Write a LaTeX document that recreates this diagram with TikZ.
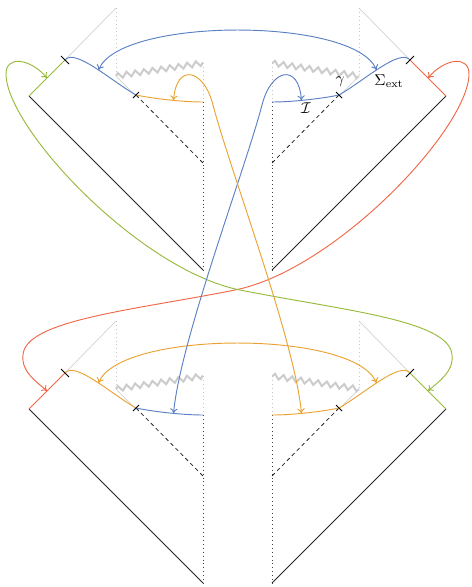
\documentclass[tikz,border=0pt]{standalone}
\usetikzlibrary{arrows.meta,decorations.pathmorphing}
\definecolor{cblue}{RGB}{92,128,196}
\definecolor{corange}{RGB}{234,163,50}
\definecolor{cgreen}{RGB}{152,186,60}
\definecolor{cred}{RGB}{240,104,72}
\tikzset{
  lightln/.style={gray!35, line width=0.45pt},
  lightdot/.style={gray!45, line width=0.5pt, dotted},
  zig/.style={gray!40, line width=1.3pt, decorate, decoration={zigzag, segment length=5.6pt, amplitude=1.7pt}},
  darkdot/.style={black!75, line width=0.5pt, dotted},
  dashln/.style={black!85, line width=0.5pt, dash pattern=on 2.5pt off 2pt},
  edgeln/.style={black!85, line width=0.55pt},
  cline/.style={line width=0.6pt},
  tickln/.style={black, line width=0.6pt},
  link/.style={line width=0.6pt, {To[length=3.2pt,width=4.8pt]}-{To[length=3.2pt,width=4.8pt]}},
  lbl/.style={inner sep=0pt},
}
\newcommand\Pdiag[4]{%
  \draw[lightln] (65,60) -- (116,8);
  \draw[lightdot] (116,8) -- (116,76);
  \draw[zig] (116,76) -- (203,63);
  \draw[lightln] (116,76) -- (136,96);
  \draw[lightdot] (203,63) -- (203,102);
  \draw[darkdot] (203,102) -- (203,270);
  \draw[dashln] (136,95) -- (203,163);
  \draw[edgeln] (29,96) -- (203,270);
  \draw[#2,cline] (29,96) -- (65,60) coordinate[pos=0.5] (#1e);
  \draw[#3,cline] (65,60) .. controls (75,48) and (110,80) .. (136,95) coordinate[pos=0.55] (#1s);
  \draw[#4,cline] (136,95) .. controls (150,98) and (180,102) .. (203,102) coordinate[pos=0.6] (#1i);
  \draw[tickln] (61,56) -- (69,64);
  \draw[tickln] (139,92) -- (133,98);
}
\begin{document}
\begin{tikzpicture}[x=0.64pt,y=-0.64pt]
\useasboundingbox (0,0) rectangle (472,587);
\begin{scope} \Pdiag{tl}{cgreen}{cblue}{corange} \end{scope}
\begin{scope}[shift={(475,0)},xscale=-1] \Pdiag{tr}{cred}{cblue}{cblue} \end{scope}
\begin{scope}[shift={(0,313)}] \Pdiag{bl}{cred}{corange}{cblue} \end{scope}
\begin{scope}[shift={(475,313)},xscale=-1] \Pdiag{br}{cgreen}{corange}{corange} \end{scope}

\draw[link,cred] (tre) .. controls +(17,-20) and +(1,-20) .. (469,75)
  .. controls +(-2,55) and +(100,-20) .. (235,290)
  .. controls +(-100,20) and +(2,-35) .. (23,355)
  .. controls +(-2,17) and +(-10,-9) .. (ble);
\draw[link,cgreen] (tle) .. controls +(-17,-20) and +(-1,-20) .. (6,75)
  .. controls +(2,55) and +(-100,-20) .. (240,290)
  .. controls +(100,20) and +(-2,-35) .. (452,355)
  .. controls +(2,17) and +(10,-9) .. (bre);
\draw[link,cblue] (tls) .. controls +(22,-53) and +(-22,-53) .. (trs);
\draw[link,corange] (bls) .. controls +(22,-53) and +(-22,-53) .. (brs);
\draw[link,cblue] (bli) .. controls +(7,-74) and +(-17,65) .. (262,105)
  .. controls +(9,-36) and +(-3,-38) .. (tri);
\draw[link,corange] (bri) .. controls +(-7,-74) and +(17,65) .. (213,105)
  .. controls +(-9,-36) and +(3,-38) .. (tli);

\node[lbl] (gam) at (340,82) {$\gamma$};
\node[lbl] (sig) at (389,81) {$\Sigma_{\mathrm{ext}}$};
\node[lbl] (ical) at (306,108) {$\mathcal{I}$};
\end{tikzpicture}
\end{document}
